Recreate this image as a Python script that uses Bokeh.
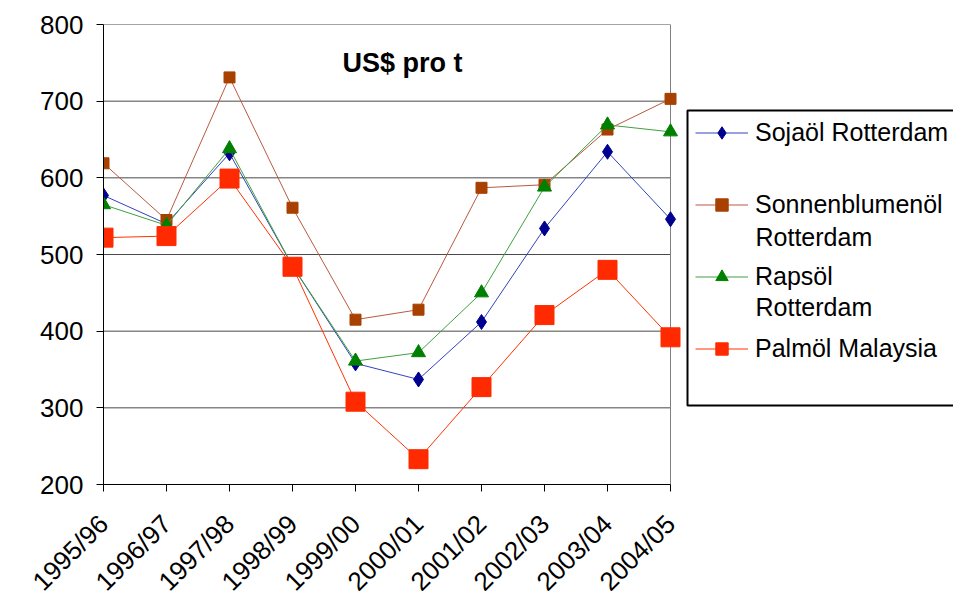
from bokeh.plotting import figure
from bokeh.models import (Range1d, FixedTicker, Legend, LegendItem, Label,
                          PolyAnnotation)
from bokeh.embed import file_html
from bokeh.resources import INLINE
import math

years = ["1995/96", "1996/97", "1997/98", "1998/99", "1999/00",
         "2000/01", "2001/02", "2002/03", "2003/04", "2004/05"]
soja = [577, 540, 632, 485, 358, 337, 412, 534, 634, 546]
sonnen = [619, 545, 731, 561, 415, 428, 587, 591, 663, 703]
raps = [565, 538, 638, 485, 361, 372, 450, 588, 669, 660]
palm = [522, 524, 599, 484, 308, 233, 327, 421, 480, 392]
y_ticks = [200, 300, 400, 500, 600, 700, 800]
title_text = "US$ pro t"
legend_first = ["Sojaöl Rotterdam", "Sonnenblumenöl", "Rapsöl", "Palmöl Malaysia"]
legend_second = ["", "Rotterdam", "Rotterdam", ""]

xs = list(range(len(years)))
n = len(years) - 1

FONT = "Liberation Sans"
W, H = 953, 615
LEFT, TOP, FRAME_W_DATA, BOTTOM_Y = 103, 24, 567, 484
frame_w = W - LEFT
x_end = n * frame_w / FRAME_W_DATA

p = figure(width=W, height=H, output_backend="svg", toolbar_location=None,
           x_range=Range1d(0, x_end), y_range=Range1d(200, 800),
           min_border_left=LEFT, min_border_right=0, min_border_top=TOP,
           min_border_bottom=H - BOTTOM_Y)
p.background_fill_color = "white"
p.border_fill_color = "white"
p.outline_line_color = None

# grid lines limited to the plot area
p.xgrid.grid_line_color = None
p.ygrid.grid_line_color = None
p.segment(x0=[0] * len(y_ticks), x1=[n] * len(y_ticks), y0=y_ticks, y1=y_ticks,
          line_color="#4a4a4a", line_width=1)
p.segment(x0=[n], x1=[n], y0=[min(y_ticks)], y1=[max(y_ticks)],
          line_color="#808080", line_width=1)

# axes
p.yaxis.ticker = FixedTicker(ticks=y_ticks)
p.yaxis.axis_line_color = "black"
p.yaxis.major_tick_out = 7
p.yaxis.major_tick_in = 0
p.yaxis.minor_tick_line_color = None
p.yaxis.major_label_text_font = FONT
p.yaxis.major_label_text_font_size = "26px"
p.yaxis.major_label_text_color = "black"
p.yaxis.major_label_standoff = 13

p.xaxis.ticker = FixedTicker(ticks=xs)
p.xaxis.bounds = (0, n)
p.xaxis.major_label_overrides = {i: y for i, y in enumerate(years)}
p.xaxis.major_label_orientation = math.pi / 4
p.xaxis.axis_line_color = "black"
p.xaxis.major_tick_out = 7
p.xaxis.major_tick_in = 0
p.xaxis.minor_tick_line_color = None
p.xaxis.major_label_text_font = FONT
p.xaxis.major_label_text_font_size = "26px"
p.xaxis.major_label_text_color = "black"
p.xaxis.major_label_standoff = 28

# series
l1 = p.line(xs, soja, line_color="#3344bb", line_width=1)
m1 = p.scatter(xs, soja, marker="diamond", size=15, fill_color="#000090",
               line_color="#000090")
l2 = p.line(xs, sonnen, line_color="#b85a40", line_width=1)
m2 = p.scatter(xs, sonnen, marker="square", size=11, fill_color="#a84000",
               line_color="#a84000")
l3 = p.line(xs, raps, line_color="#40a040", line_width=1)
m3 = p.scatter(xs, raps, marker="triangle", size=14, fill_color="#008000",
               line_color="#008000")
l4 = p.line(xs, palm, line_color="#ff3300", line_width=1)
m4 = p.scatter(xs, palm, marker="square", size=19, fill_color="#ff2a00",
               line_color="#ff2a00")

# legend frame (runs past the right edge, as in the original)
bx0, bx1 = 687 - LEFT, W - LEFT + 60
by0, by1 = BOTTOM_Y - 405, BOTTOM_Y - 110
p.add_layout(PolyAnnotation(xs=[bx0, bx1, bx1, bx0], ys=[by0, by0, by1, by1],
                            xs_units="screen", ys_units="screen",
                            fill_color="white", fill_alpha=1,
                            line_color="black", line_width=2, line_alpha=1))

legend = Legend(items=[
    LegendItem(label=legend_first[0], renderers=[l1, m1]),
    LegendItem(label=legend_first[1], renderers=[l2, m2]),
    LegendItem(label=legend_first[2], renderers=[l3, m3]),
    LegendItem(label=legend_first[3], renderers=[l4, m4]),
], location=(695 - LEFT, BOTTOM_Y - 364))
legend.border_line_color = None
legend.background_fill_alpha = 0
legend.label_text_font = FONT
legend.label_text_font_size = "25px"
legend.label_text_color = "black"
legend.glyph_width = 53
legend.glyph_height = 31
legend.label_height = 31
legend.label_standoff = 7
legend.padding = 6
legend.spacing = 41
legend.margin = 0
p.add_layout(legend, "center")

second_y = [131, 236, 306, 349]
for i, t in enumerate(legend_second):
    if t:
        p.add_layout(Label(x=755 - LEFT, y=BOTTOM_Y - second_y[i],
                           x_units="screen", y_units="screen", text=t,
                           text_font=FONT, text_font_size="25px",
                           text_baseline="middle", text_align="left",
                           text_color="black"))

p.add_layout(Label(x=402 - LEFT, y=BOTTOM_Y - 62, x_units="screen",
                   y_units="screen", text=title_text, text_font=FONT,
                   text_font_style="bold", text_font_size="27px",
                   text_align="center", text_baseline="middle",
                   text_color="black"))

open("out.html", "w").write(file_html(p, INLINE))
